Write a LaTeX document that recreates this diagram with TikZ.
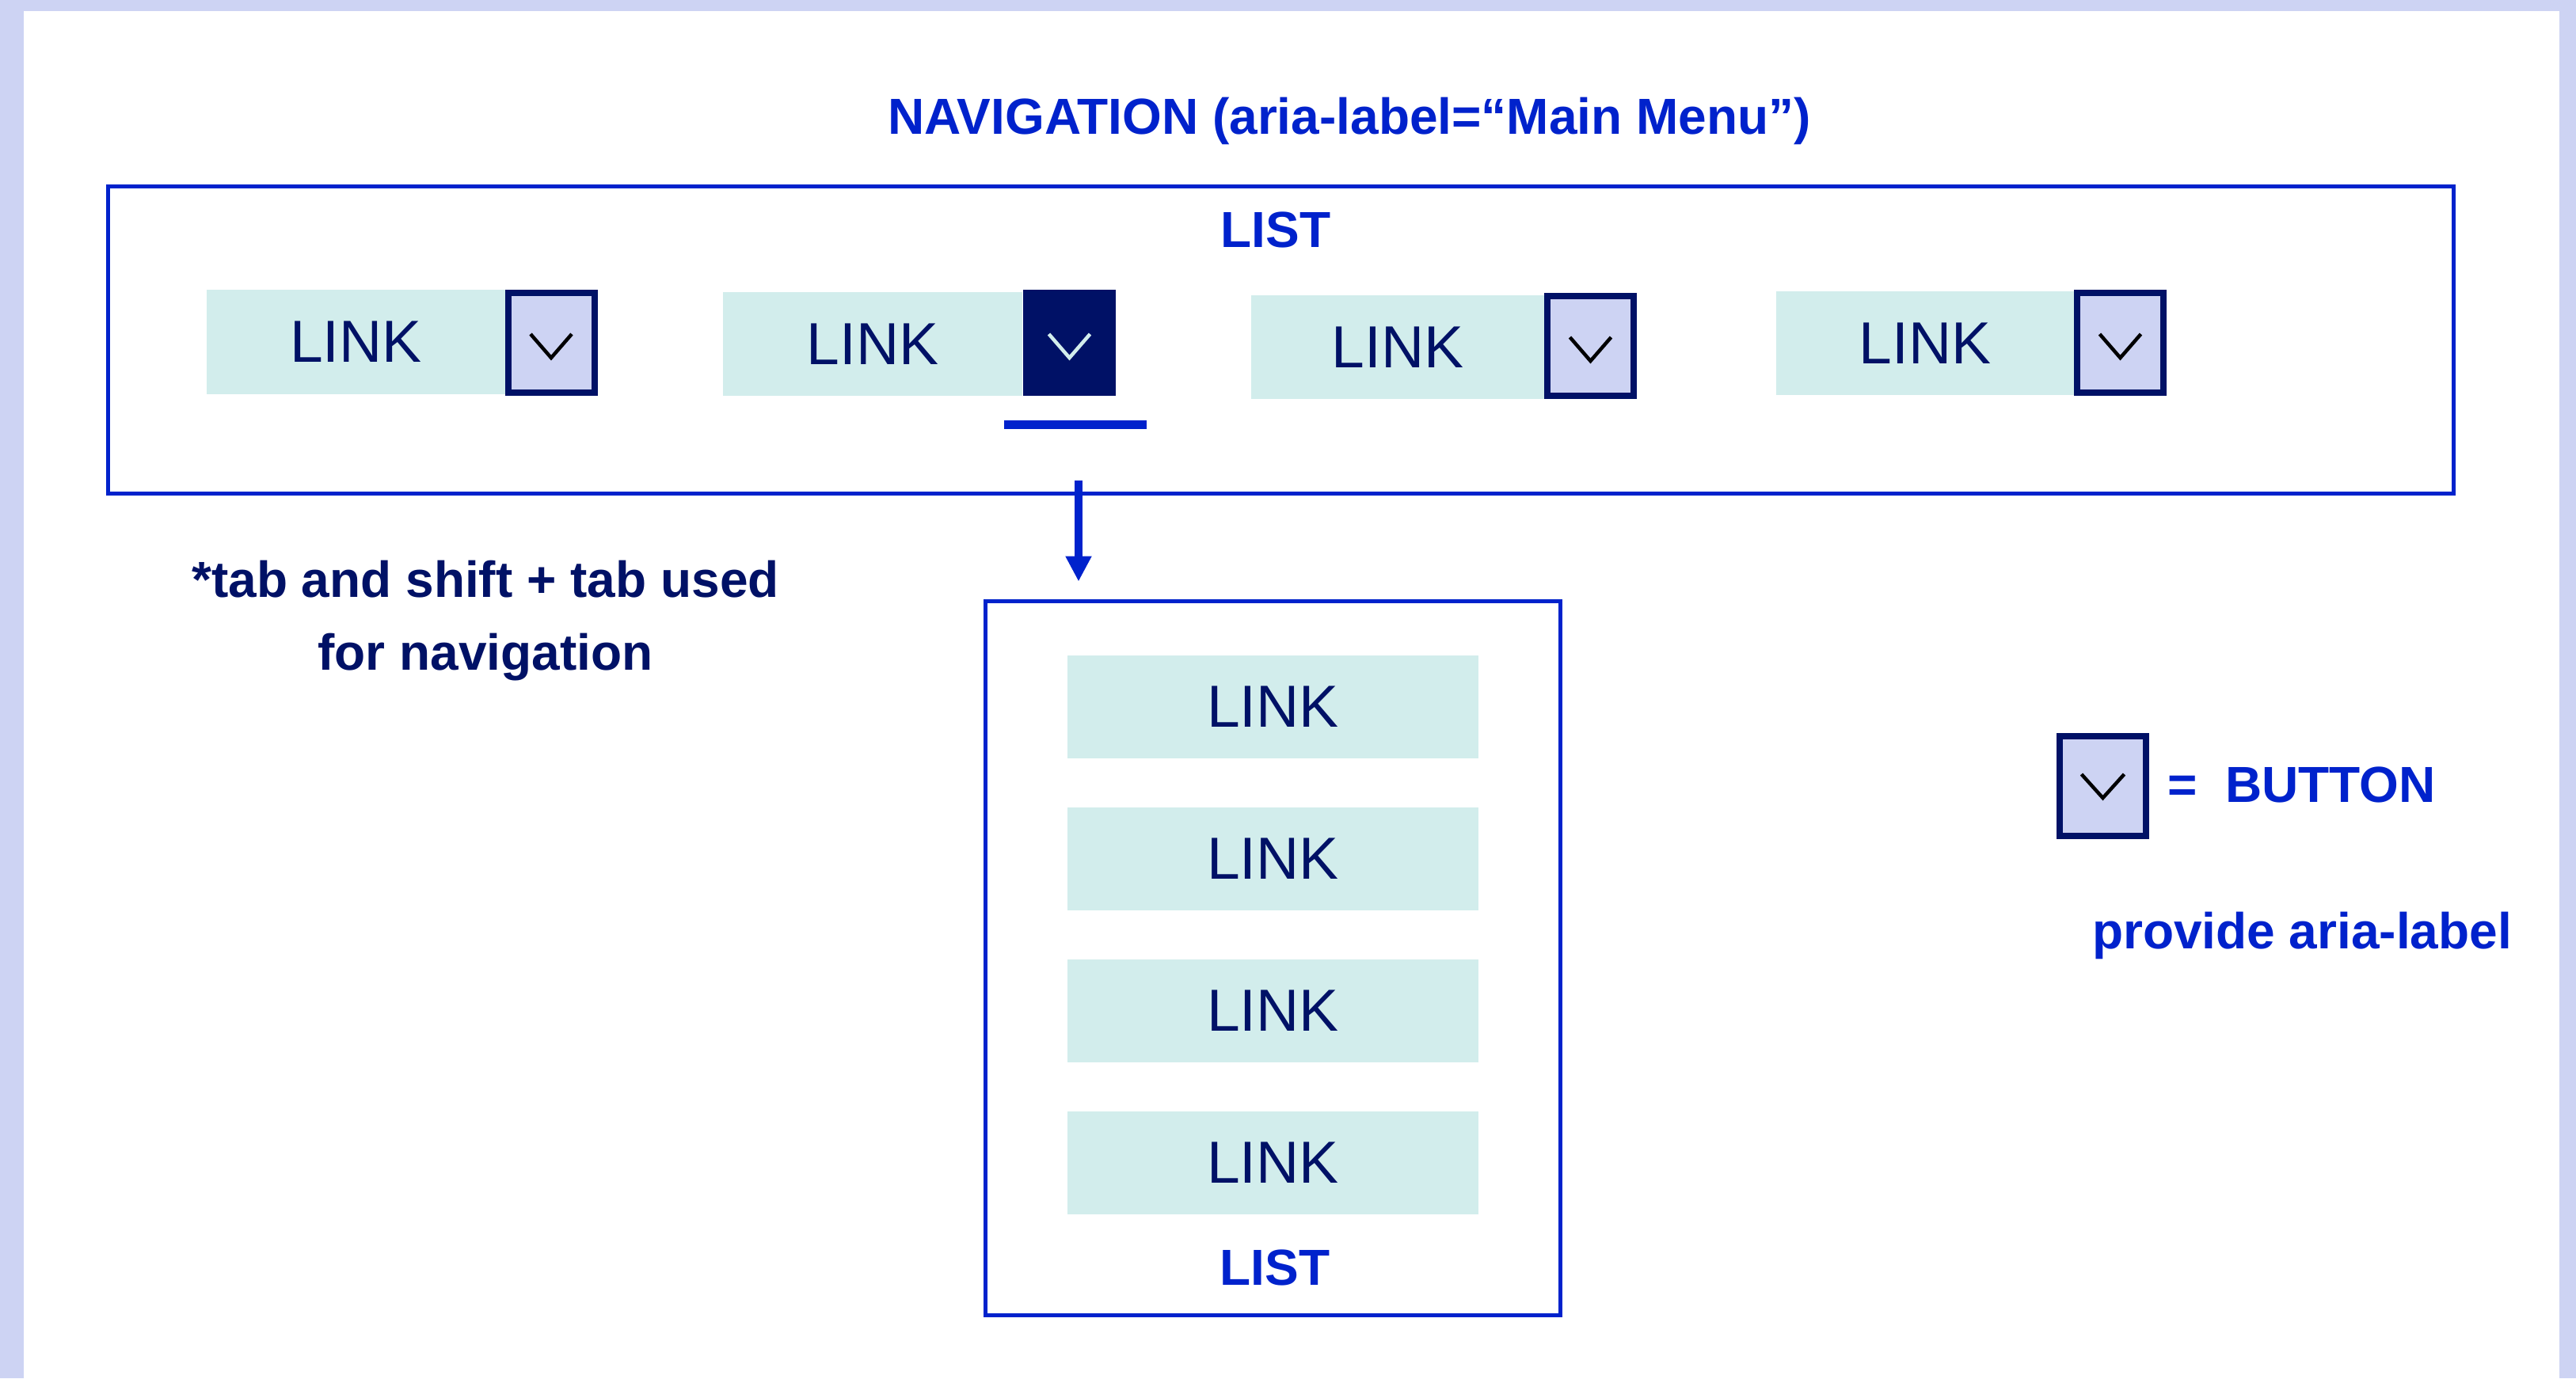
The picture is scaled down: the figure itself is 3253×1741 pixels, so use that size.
\documentclass[tikz,border=0pt]{standalone}
\usepackage{fontspec}
\setmainfont{Liberation Sans}
\usetikzlibrary{arrows.meta}
\definecolor{lav}{HTML}{CDD3F3}
\definecolor{linkc}{HTML}{D2EDEC}
\definecolor{navy}{HTML}{001166}
\definecolor{blu}{HTML}{0022CC}
\begin{document}
\begin{tikzpicture}[x=1pt,y=-1pt,
  linkbox/.style={fill=linkc, inner sep=0pt, text=navy, font=\fontsize{75}{90}\selectfont},
  btn/.style={draw=navy, line width=8pt, fill=lav, minimum width=109pt, minimum height=126pt, inner sep=0pt},
  btnon/.style={btn, fill=navy},
  chev/.style={line width=4.5pt, line join=miter},
  heading/.style={text=blu, font=\fontsize{64}{77}\selectfont\bfseries, inner sep=0pt, anchor=base},
  notetext/.style={heading, text=navy},
  boxframe/.style={draw=blu, line width=5pt, inner sep=0pt}]
% background and margins
\useasboundingbox (0,0) rectangle (3253,1741);
\fill[lav] (0,0) rectangle (3253,1741);
\fill[white] (30,14) rectangle (3232,1741);

% title
\node[heading] (title) at (1704,169) {NAVIGATION (aria-label=“Main Menu”)};

% navigation list box
\node[boxframe, minimum width=2962pt, minimum height=388pt] (nav) at (1617.5,429.5) {};
\node[heading] (list1) at (1611,312) {LIST};

% row of links
\node[linkbox, minimum width=377pt, minimum height=132pt] (l1) at (449.5,432) {LINK};
\node[linkbox, minimum width=378pt, minimum height=131pt] (l2) at (1102,434.5) {LINK};
\node[linkbox, minimum width=370pt, minimum height=131pt] (l3) at (1765,438.5) {LINK};
\node[linkbox, minimum width=376pt, minimum height=131pt] (l4) at (2431,433.5) {LINK};

% buttons
\node[btn] (b1) at (696,433) {};
\node[btnon] (b2) at (1350.5,433) {};
\node[btn] (b3) at (2008.5,437) {};
\node[btn] (b4) at (2677.5,433) {};
\foreach \b/\c in {b1/black, b2/linkc, b3/black, b4/black}{
  \draw[chev, \c] ([shift={(-26,-11)}]\b.center) -- ([shift={(0,19)}]\b.center) -- ([shift={(26,-11)}]\b.center);
}

% focus underline
\coordinate (ulA) at (1268,536);
\coordinate (ulB) at (1448,536);
\draw[blu, line width=11pt] (ulA) -- (ulB);

% dropdown list box
\node[boxframe, minimum width=726pt, minimum height=902pt] (drop) at (1607.5,1210.5) {};
\node[linkbox, minimum width=519pt, minimum height=130pt] (d1) at (1607.5,893) {LINK};
\node[linkbox, minimum width=519pt, minimum height=130pt] (d2) at (1607.5,1085) {LINK};
\node[linkbox, minimum width=519pt, minimum height=130pt] (d3) at (1607.5,1276.5) {LINK};
\node[linkbox, minimum width=519pt, minimum height=130pt] (d4) at (1607.5,1468.5) {LINK};
\node[heading] (list2) at (1610,1623) {LIST};

% arrow
\coordinate (arrtop) at (1362,607);
\draw[blu, line width=10pt, -{Triangle[width=31pt,length=32pt]}, shorten >=22.5pt] (arrtop) -- (arrtop |- drop.north);

% note
\node[notetext] (note1) at (613,754) {*tab and shift + tab used};
\node[notetext] (note2) at (613,846) {for navigation};

% legend
\node[btn] (lb) at (2655.5,993) {};
\draw[chev, black] ([shift={(-27,-15)}]lb.center) -- ([shift={(0,15)}]lb.center) -- ([shift={(27,-15)}]lb.center);
\node[heading, anchor=base west] (leg) at (2737,1013) {=\ \ BUTTON};
\node[heading] (prov) at (2907,1198) {provide aria-label};
\end{tikzpicture}
\end{document}
